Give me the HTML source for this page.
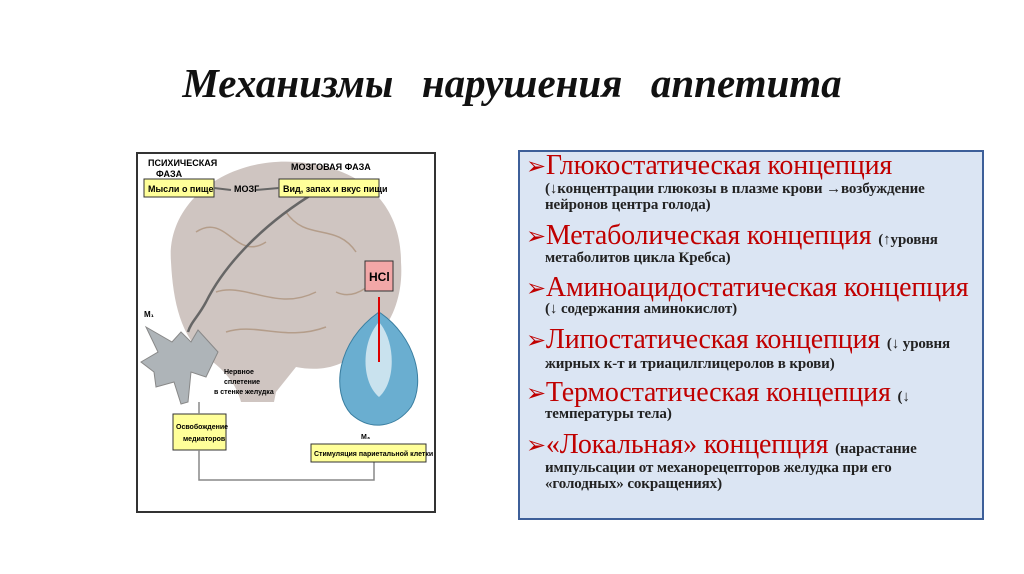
<!DOCTYPE html>
<html><head><meta charset="utf-8"><style>
body{margin:0;width:1024px;height:574px;background:#fff;position:relative;overflow:hidden;font-family:"Liberation Serif",serif}
.t{position:absolute;left:0;width:1024px;top:59px;text-align:center;font-size:41px;font-style:italic;font-weight:bold;color:#111;word-spacing:4px}
.box{position:absolute;left:518px;top:150px;width:462px;height:366px;background:#dbe5f3;border:2px solid #3d5f99}
.l{position:absolute;white-space:nowrap}
.h{font-size:28px;color:#c00000;letter-spacing:-0.2px}
.s{font-size:15px;font-weight:bold;color:#222;letter-spacing:-0.1px}
.a{color:#c00000;font-size:24px}
</style></head><body>
<div class="t">Механизмы&nbsp; нарушения&nbsp; аппетита</div>
<svg style="position:absolute;left:136px;top:152px" width="300" height="362" font-family="Liberation Sans,sans-serif">
<rect x="1" y="1" width="298" height="359" fill="#fff" stroke="#333" stroke-width="2"/>
<path d="M35 110 C30 50 90 5 160 10 C230 15 265 55 265 110 C268 150 250 185 225 195 C210 215 185 220 160 215 L140 240 L138 250 L105 250 C100 230 85 215 70 205 C45 185 37 150 35 110Z" fill="#cfc5c1"/>
<path d="M60 80 C90 60 100 110 130 90 M150 60 C170 90 200 70 220 100 M80 140 C110 130 140 160 180 140 M200 140 C220 150 240 130 255 110 M90 180 C120 170 150 190 190 175" stroke="#b49d8a" fill="none" stroke-width="1.5"/>
<path d="M180 40 C130 70 90 110 70 150 C62 165 55 170 52 180" stroke="#666" fill="none" stroke-width="2.5"/>
<path d="M10 175 L36 190 L45 180 L55 190 L62 178 L82 200 L70 225 L55 220 L52 250 L45 252 L38 230 L20 235 L18 220 L5 210 L22 200Z" fill="#aeb4b8" stroke="#888"/>
<text x="12" y="14" font-size="9" font-weight="bold">ПСИХИЧЕСКАЯ</text><text x="20" y="25" font-size="9" font-weight="bold">ФАЗА</text>
<rect x="8" y="27" width="70" height="18" fill="#ffff99" stroke="#333"/>
<text x="12" y="40" font-size="9" font-weight="bold">Мысли о пище</text>
<text x="98" y="40" font-size="9" font-weight="bold">МОЗГ</text>
<text x="155" y="18" font-size="9" font-weight="bold">МОЗГОВАЯ ФАЗА</text>
<rect x="143" y="27" width="100" height="18" fill="#ffff99" stroke="#333"/>
<text x="147" y="40" font-size="9" font-weight="bold">Вид, запах и вкус пищи</text>
<path d="M78 36 L95 38 M120 38 L143 36" stroke="#666" stroke-width="2"/>
<text x="8" y="165" font-size="8" font-weight="bold">M₁</text>
<text x="88" y="222" font-size="7" font-weight="bold">Нервное</text><text x="88" y="232" font-size="7" font-weight="bold">сплетение</text><text x="78" y="242" font-size="7" font-weight="bold">в стенке желудка</text>
<rect x="37" y="262" width="53" height="36" fill="#ffff99" stroke="#333"/>
<text x="40" y="277" font-size="7" font-weight="bold">Освобождение</text><text x="47" y="289" font-size="7" font-weight="bold">медиаторов</text>
<path d="M63 250 V262 M63 298 V328 H238 V310" stroke="#888" fill="none" stroke-width="1.5"/>
<rect x="175" y="292" width="115" height="18" fill="#ffff99" stroke="#333"/>
<text x="178" y="304" font-size="7" font-weight="bold">Стимуляция париетальной клетки</text>
<rect x="229" y="109" width="28" height="30" fill="#f2a7a7" stroke="#333"/>
<text x="233" y="129" font-size="12" font-weight="bold">HCl</text>
<path d="M243 160 C200 190 195 240 215 262 C235 280 260 275 275 255 C290 230 280 185 243 160Z" fill="#6aaed0" stroke="#3a7ea0"/>
<path d="M243 170 C225 190 225 230 243 245 C260 230 260 190 243 170Z" fill="#c9e2ee"/>
<path d="M243 145 V210" stroke="#d00" stroke-width="2"/>
<text x="225" y="287" font-size="7" font-weight="bold">M₃</text>
</svg>
<div class="box"></div>
<div class="l h" style="left:526px;top:150px"><span class="a">➢</span>Глюкостатическая концепция</div>
<div class="l s" style="left:545px;top:181px">(↓концентрации глюкозы в плазме крови →возбуждение</div>
<div class="l s" style="left:545px;top:197px">нейронов центра голода)</div>
<div class="l h" style="left:526px;top:220px"><span class="a">➢</span>Метаболическая концепция <span class="s" style="color:#222">(↑уровня</span></div>
<div class="l s" style="left:545px;top:250px">метаболитов цикла Кребса)</div>
<div class="l h" style="left:526px;top:272px"><span class="a">➢</span>Аминоацидостатическая концепция</div>
<div class="l s" style="left:545px;top:301px">(↓ содержания аминокислот)</div>
<div class="l h" style="left:526px;top:324px"><span class="a">➢</span>Липостатическая концепция <span class="s" style="color:#222">(↓ уровня</span></div>
<div class="l s" style="left:545px;top:356px">жирных к-т и триацилглицеролов в крови)</div>
<div class="l h" style="left:526px;top:377px"><span class="a">➢</span>Термостатическая концепция <span class="s" style="color:#222">(↓</span></div>
<div class="l s" style="left:545px;top:406px">температуры тела)</div>
<div class="l h" style="left:526px;top:429px"><span class="a">➢</span>«Локальная» концепция <span class="s" style="color:#222">(нарастание</span></div>
<div class="l s" style="left:545px;top:460px">импульсации от механорецепторов желудка при его</div>
<div class="l s" style="left:545px;top:476px">«голодных» сокращениях)</div>
</body></html>
